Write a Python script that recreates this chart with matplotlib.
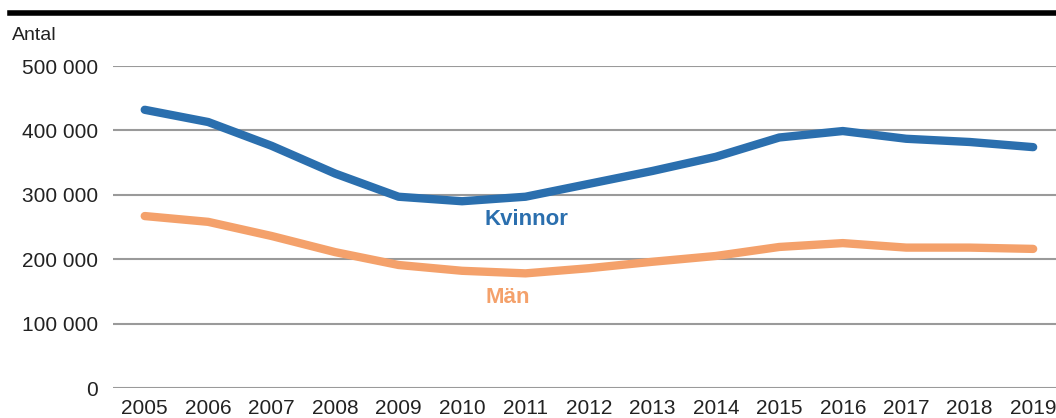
import numpy as np
import matplotlib.pyplot as plt
from matplotlib.lines import Line2D
from matplotlib.ticker import FuncFormatter

plt.rcParams['font.family'] = ['Liberation Sans', 'DejaVu Sans']

years = list(range(2005, 2020))
kvinnor = [432000, 413000, 376000, 333000, 297000, 290000, 297000, 317000,
           337000, 359000, 389000, 399000, 387000, 382000, 374000]
man = [267000, 258000, 236000, 211000, 191000, 182000, 178000, 186000,
       196000, 205000, 219000, 225000, 218000, 218000, 216000]
yticks = [0, 100000, 200000, 300000, 400000, 500000]

blue = '#2b6fae'
orange = '#f4a16b'
grid = '#9a9a9a'

fig = plt.figure(figsize=(10.56, 4.18), dpi=100)
ax = fig.add_axes([113 / 1056, 30 / 418, 1 - 113 / 1056, 322 / 418])

for y in yticks:
    ax.axhline(y, color=grid, lw=1.5, zorder=1)

ax.plot(years, kvinnor, color=blue, lw=6, solid_capstyle='round',
        solid_joinstyle='round', zorder=3, clip_on=False)
ax.plot(years, man, color=orange, lw=6, solid_capstyle='round',
        solid_joinstyle='round', zorder=3, clip_on=False)

ax.text(2011.02, 261000, 'Kvinnor', color=blue, fontsize=16,
        fontweight='bold', ha='center', va='center')
ax.text(2010.72, 140000, 'Män', color=orange, fontsize=16,
        fontweight='bold', ha='center', va='center')

ax.set_xlim(2004.5, 2019.36)
ax.set_ylim(0, 500000)
ax.set_xticks(years)
ax.set_yticks(yticks)
ax.yaxis.set_major_formatter(FuncFormatter(lambda v, p: f'{int(v):,}'.replace(',', ' ')))
ax.tick_params(axis='both', length=0, labelsize=15, colors='#222222')
ax.tick_params(axis='y', pad=11)
ax.tick_params(axis='x', pad=8)
for s in ax.spines.values():
    s.set_visible(False)

fig.add_artist(Line2D([10 / 1056, 1], [1 - 13 / 418, 1 - 13 / 418],
                      color='black', lw=4, transform=fig.transFigure))
fig.text(12 / 1056, 1 - 35 / 418, 'Antal', fontsize=14, color='#222222',
         ha='left', va='center')

fig.savefig('out.png', dpi=100)
